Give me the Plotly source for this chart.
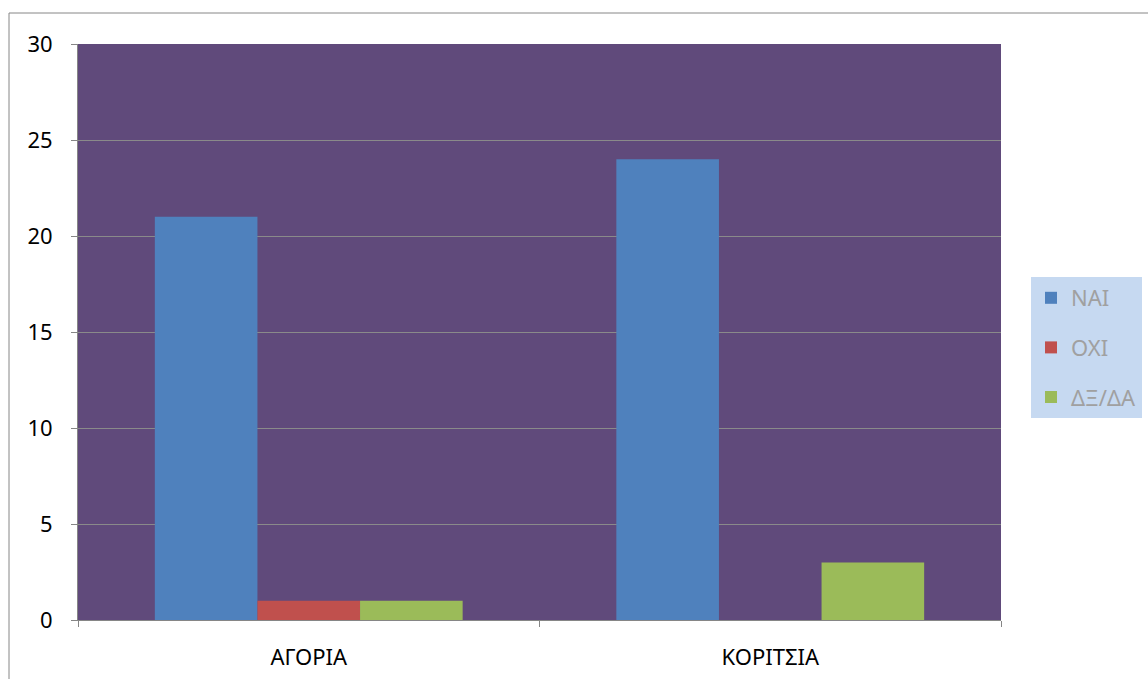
import plotly.graph_objects as go

categories = ["ΑΓΟΡΙΑ", "ΚΟΡΙΤΣΙΑ"]
series_names = ["ΝΑΙ", "ΟΧΙ", "ΔΞ/ΔΑ"]
nai = [21, 24]
oxi = [1, 0]
dxda = [1, 3]
series_values = [nai, oxi, dxda]
colors = ["#4F81BD", "#C0504D", "#9BBB59"]
y_ticks = [0, 5, 10, 15, 20, 25, 30]

W, H = 1148, 679
L, R, T, B = 78, 147, 44, 59
pw = W - L - R
ph = H - T - B

fig = go.Figure()
for i, (name, vals, col) in enumerate(zip(series_names, series_values, colors)):
    fig.add_trace(go.Bar(
        x=categories, y=vals, name=name, marker_color=col,
        marker_line_width=0, legendgroup=f"g{i}",
    ))

def px_x(p):
    return (p - L) / pw

def px_y(p):
    return (H - B - p) / ph

fig.update_layout(
    width=W, height=H,
    margin=dict(l=L, r=R, t=T, b=B, autoexpand=False),
    paper_bgcolor="white",
    plot_bgcolor="#604A7B",
    barmode="group",
    bargap=0.333,
    bargroupgap=0,
    font=dict(family="Noto Sans, Liberation Sans, sans-serif", size=22, color="black"),
    xaxis=dict(
        showgrid=False, showline=True, linecolor="#868686", linewidth=1,
        ticks="outside", tickson="boundaries", ticklen=6, tickcolor="#868686",
        ticklabelstandoff=18, tickfont=dict(size=22),
    ),
    yaxis=dict(
        range=[0, 30], tickvals=y_ticks, showgrid=True, gridcolor="#8A8A8A",
        gridwidth=1, showline=True, linecolor="#868686", linewidth=1,
        ticks="outside", ticklen=6, tickcolor="#868686",
        ticklabelstandoff=14, tickfont=dict(size=22), zeroline=False,
    ),
    legend=dict(
        x=px_x(1031), y=px_y(277), xanchor="left", yanchor="top",
        bgcolor="#C6D9F1", font=dict(size=22, color="#A0A0A0"),
        tracegroupgap=18, itemwidth=30, entrywidth=85,
    ),
    showlegend=True,
)

fig.add_shape(
    type="rect", xref="paper", yref="paper",
    x0=px_x(9), x1=px_x(1170), y0=px_y(700), y1=px_y(13),
    line=dict(color="#868686", width=1), fillcolor="rgba(0,0,0,0)", layer="below",
)

fig.write_html("out.html")
